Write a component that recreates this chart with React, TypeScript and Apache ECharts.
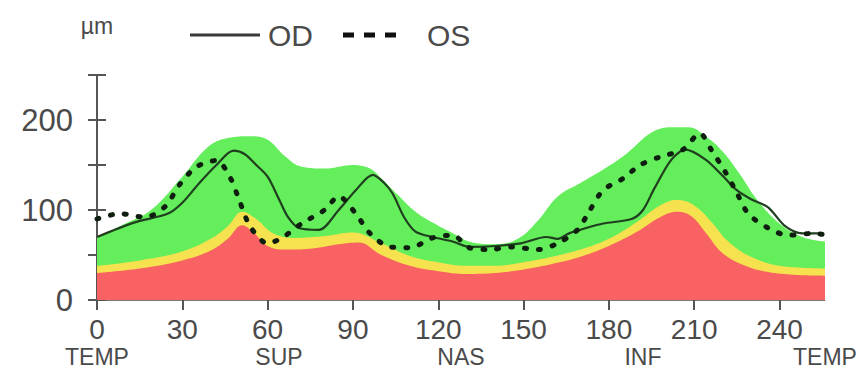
import React, { useEffect, useRef } from "react";
import * as echarts from "echarts";

// Degrees (x) and thickness in µm (y) for each curve
const redDeg = [0, 15, 30, 40, 46, 51, 55, 60, 66, 75, 85, 92, 100, 110, 120, 130, 140, 150, 160, 170, 180, 190, 198, 204, 209, 214, 220, 228, 236, 245, 256];
const redVal = [30, 35, 44, 55, 68, 83, 75, 60, 56, 57, 62, 64, 50, 38, 32, 29, 30, 34, 40, 48, 60, 76, 92, 98, 93, 75, 52, 38, 31, 28, 27];

const yellowDeg = [0, 15, 30, 40, 46, 51, 56, 62, 70, 80, 90, 100, 110, 120, 130, 140, 150, 160, 170, 180, 190, 198, 204, 210, 216, 222, 230, 240, 256];
const yellowVal = [38, 44, 54, 68, 82, 98, 90, 74, 69, 71, 75, 63, 49, 42, 38, 38, 42, 48, 56, 68, 87, 105, 111, 105, 87, 65, 48, 38, 35];

const greenDeg = [0, 10, 19, 30, 39, 46, 54, 60, 66, 72, 80, 90, 96, 100, 106, 112, 118, 124, 132, 140, 148, 155, 162, 170, 178, 186, 195, 202, 208, 214, 220, 226, 232, 240, 248, 256];
const greenVal = [70, 85, 100, 137, 170, 180, 182, 178, 160, 148, 146, 150, 146, 135, 116, 98, 86, 76, 64, 62, 68, 88, 115, 130, 145, 162, 186, 192, 192, 182, 165, 140, 112, 85, 70, 65];

const odDeg = [0, 13, 25, 30, 36, 42, 48, 52, 56, 60, 64, 67, 71, 78, 85, 91, 97, 101, 104, 108, 112, 118, 125, 131, 140, 149, 158, 162, 166, 172, 178, 188, 192, 196, 202, 207, 214, 220, 225, 230, 236, 242, 248, 254];
const odVal = [70, 86, 96, 108, 130, 150, 166, 162, 150, 137, 112, 93, 80, 78, 100, 122, 139, 130, 118, 92, 76, 70, 65, 59, 60, 63, 70, 68, 74, 80, 85, 90, 100, 124, 156, 167, 156, 138, 122, 112, 103, 82, 74, 74];

const osDeg = [0, 8, 17, 24, 29, 35, 42, 47, 50, 54, 60, 65, 72, 80, 85, 91, 96, 103, 110, 118, 125, 131, 138, 146, 155, 162, 169, 173, 178, 185, 191, 198, 206, 212, 216, 221, 225, 229, 236, 243, 252, 255];
const osVal = [90, 96, 92, 104, 128, 148, 155, 135, 111, 81, 63, 69, 85, 100, 115, 96, 74, 59, 58, 69, 72, 58, 56, 59, 56, 63, 78, 98, 122, 135, 150, 159, 167, 185, 167, 142, 119, 96, 80, 72, 74, 73];

const xTickValues = [0, 30, 60, 90, 120, 150, 180, 210, 240];
const sectorValues = [0, 64, 128, 192, 256];
const sectorNames = ["TEMP", "SUP", "NAS", "INF", "TEMP"];
const yLabelValues = [0, 100, 200];
const legendNames = ["OD", "OS"];

const zip = (xs: number[], ys: number[]) => xs.map((x, i) => [x, ys[i]]);

const FONT = "'Liberation Sans', Arial, sans-serif";
const TEXT = "#4a4a4a";
const OD_COLOR = "#1f3f1f";
const OS_COLOR = "#0f1f0f";

export default function App() {
  const ref = useRef<HTMLDivElement>(null);
  useEffect(() => {
    if (!ref.current) return;
    const chart = echarts.init(ref.current, null, { renderer: "svg" });
    const areaSeries = (name: string, xs: number[], ys: number[], color: string) => ({
      name,
      type: "line",
      data: zip(xs, ys),
      smooth: 0.4,
      symbol: "none",
      lineStyle: { width: 0 },
      areaStyle: { color, opacity: 1 },
      silent: true,
    });
    chart.setOption({
      animation: false,
      backgroundColor: "#ffffff",
      textStyle: { fontFamily: FONT },
      graphic: [
        { type: "line", shape: { x1: 190, y1: 35, x2: 260, y2: 35 }, style: { stroke: "#3a3a3a", lineWidth: 3 } },
        { type: "text", x: 268, y: 35, style: { text: legendNames[0], font: `30px ${FONT}`, fill: TEXT, textVerticalAlign: "middle" } },
        { type: "line", shape: { x1: 343, y1: 35, x2: 405, y2: 35 }, style: { stroke: "#111", lineWidth: 5, lineDash: [11, 10] } },
        { type: "text", x: 427, y: 35, style: { text: legendNames[1], font: `30px ${FONT}`, fill: TEXT, textVerticalAlign: "middle" } },
      ],
      grid: { left: 97, right: 36, top: 75, bottom: 88, containLabel: false, outerBoundsMode: "none" },
      xAxis: [
        {
          type: "value",
          min: 0,
          max: 256,
          splitLine: { show: false },
          axisLine: { show: true, lineStyle: { color: "#777", width: 1 } },
          axisTick: { show: true, customValues: xTickValues, length: 10, lineStyle: { color: "#555", width: 2 } },
          axisLabel: { customValues: xTickValues, margin: 16, lineHeight: 26, fontFamily: FONT, fontSize: 28, color: TEXT },
        },
        {
          type: "value",
          position: "bottom",
          min: 0,
          max: 256,
          splitLine: { show: false },
          axisLine: { show: false },
          axisTick: { show: false },
          axisLabel: {
            customValues: sectorValues,
            margin: 44,
            lineHeight: 26,
            fontFamily: FONT,
            fontSize: 23,
            color: TEXT,
            formatter: (v: number) => sectorNames[sectorValues.indexOf(v)] ?? "",
          },
        },
      ],
      yAxis: [
        {
          type: "value",
          min: 0,
          max: 250,
          interval: 50,
          name: "µm",
          nameLocation: "end",
          nameGap: 38,
          nameTextStyle: { fontFamily: FONT, fontSize: 23, color: TEXT, align: "center" },
          splitLine: { show: false },
          axisLine: { show: true, lineStyle: { color: "#555", width: 2 } },
          axisTick: { show: true, length: 9, lineStyle: { color: "#555", width: 2 } },
          axisLabel: { customValues: yLabelValues, margin: 24, fontFamily: FONT, fontSize: 31, color: TEXT },
        },
        {
          type: "value",
          min: 0,
          max: 250,
          interval: 50,
          position: "left",
          splitLine: { show: false },
          axisLine: { show: false },
          axisTick: { show: true, inside: true, length: 9, lineStyle: { color: "#555", width: 2 } },
          axisLabel: { show: false },
        },
      ],
      series: [
        areaSeries("green", greenDeg, greenVal, "#64ee5c"),
        areaSeries("yellow", yellowDeg, yellowVal, "#f6e24e"),
        areaSeries("red", redDeg, redVal, "#f86262"),
        {
          name: legendNames[0],
          type: "line",
          data: zip(odDeg, odVal),
          smooth: 0.3,
          symbol: "none",
          lineStyle: { color: OD_COLOR, width: 2.2 },
          z: 5,
        },
        {
          name: legendNames[1],
          type: "line",
          data: zip(osDeg, osVal),
          smooth: 0.3,
          symbol: "none",
          lineStyle: { color: OS_COLOR, width: 5, type: [2, 12], cap: "round" },
          z: 6,
        },
      ],
    });
    return () => chart.dispose();
  }, []);
  return <div ref={ref} style={{ width: 861, height: 388, position: "absolute", left: 0, top: 0 }} />;
}
